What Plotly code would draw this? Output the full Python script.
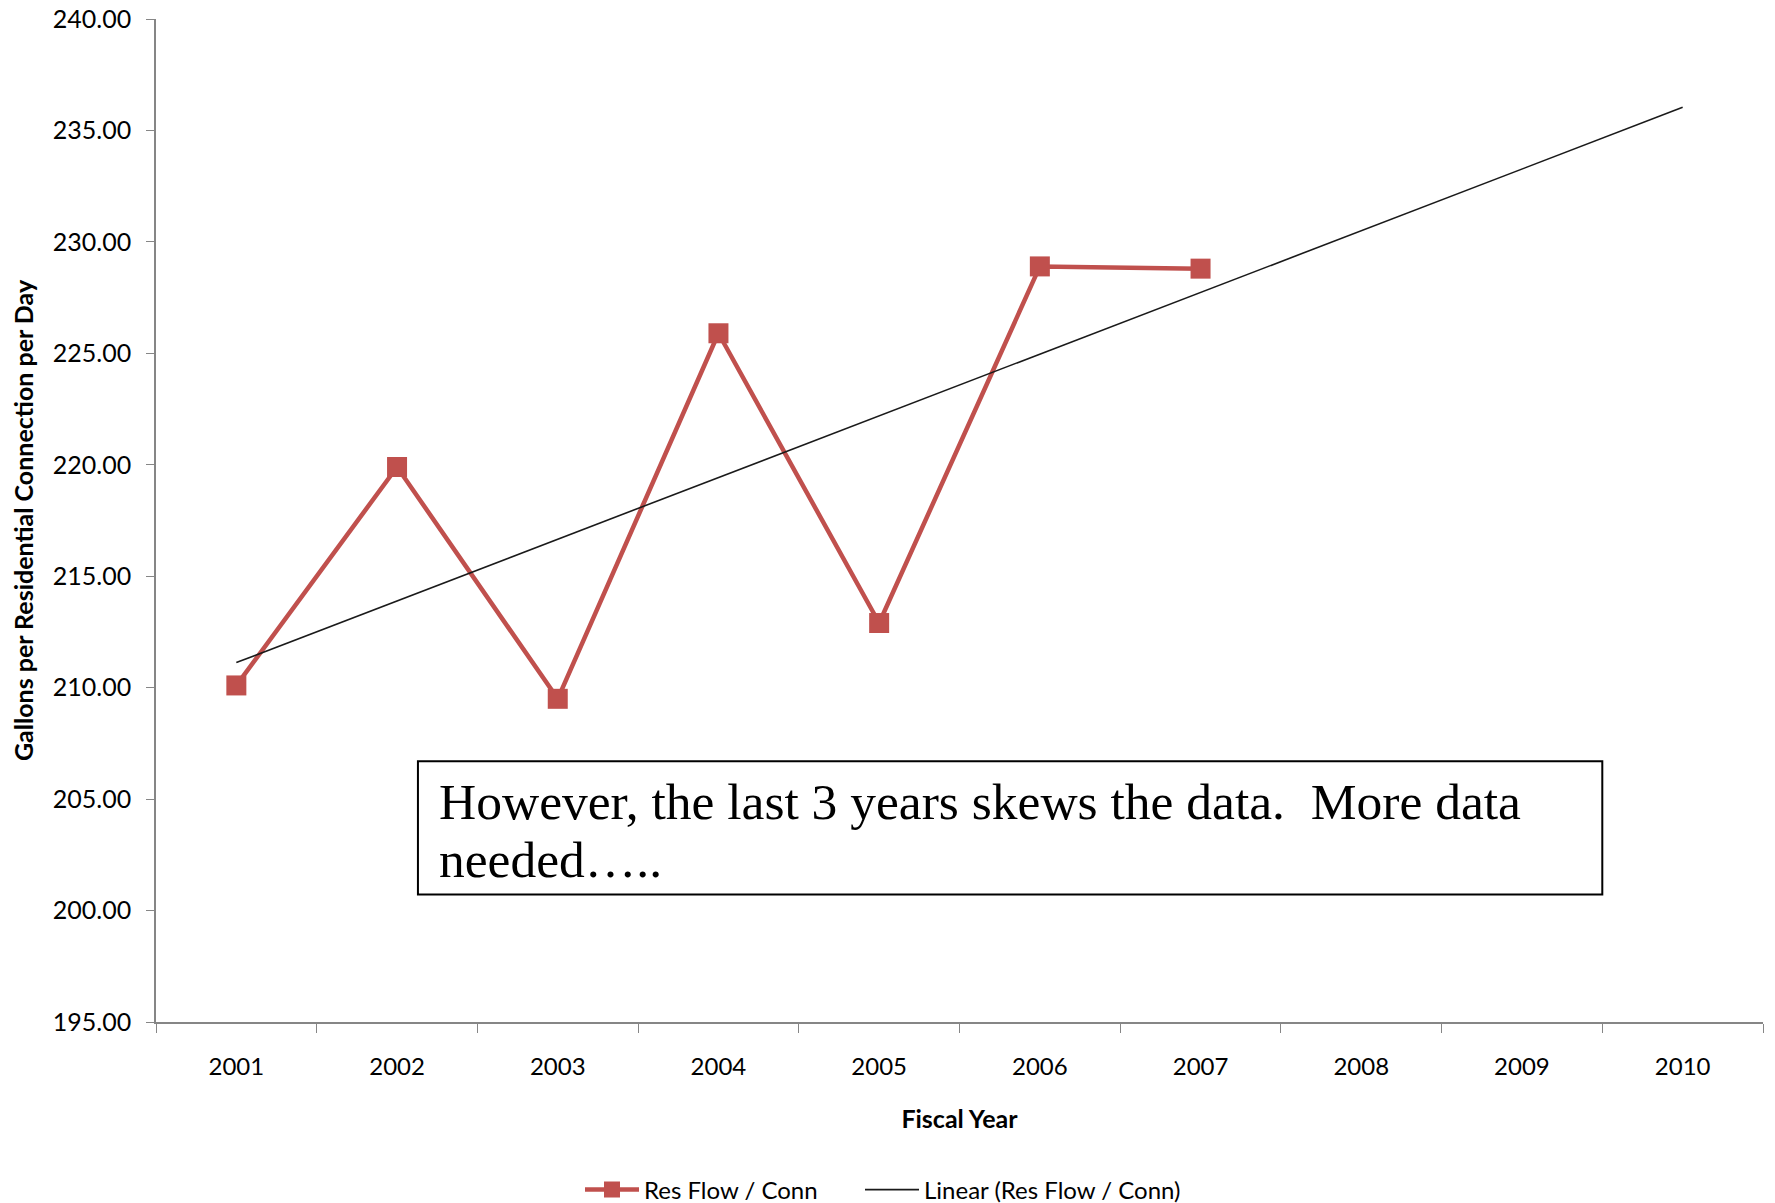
import numpy as np
import plotly.graph_objects as go

years = ["2001", "2002", "2003", "2004", "2005", "2006", "2007", "2008", "2009", "2010"]
data_years = ["2001", "2002", "2003", "2004", "2005", "2006", "2007"]
res_flow = [210.1, 219.9, 209.5, 225.9, 212.9, 228.9, 228.8]
y_ticks = [195, 200, 205, 210, 215, 220, 225, 230, 235, 240]
y_tick_labels = [f"{v:.2f}" for v in y_ticks]

# Excel-style linear trendline fitted to the data, extended to 2010
xi = np.arange(1, len(res_flow) + 1)
slope, intercept = np.polyfit(xi, res_flow, 1)
trend_x = [years[0], years[-1]]
trend_y = [slope * 1 + intercept, slope * len(years) + intercept]

fig = go.Figure()
fig.add_trace(go.Scatter(
    x=data_years, y=res_flow, mode="lines+markers", name="Res Flow / Conn",
    line=dict(color="#C0504D", width=4.5),
    marker=dict(symbol="square", size=20, color="#C0504D"),
    legend="legend",
))
fig.add_trace(go.Scatter(
    x=trend_x, y=trend_y, mode="lines", name="Linear (Res Flow / Conn)",
    line=dict(color="#1a1a1a", width=1.6),
    legend="legend2",
))

font_main = "Lato, 'Open Sans', sans-serif"
leg_common = dict(orientation="h", xref="container", yref="container",
                  xanchor="left", yanchor="middle", y=0.0108, itemwidth=54,
                  font=dict(size=24), bgcolor="rgba(0,0,0,0)")
fig.update_layout(
    width=1775, height=1203,
    margin=dict(l=156, r=12, t=19, b=181, autoexpand=False),
    paper_bgcolor="white", plot_bgcolor="white",
    font=dict(family=font_main, size=24, color="#000000"),
    showlegend=True,
    legend=dict(x=580 / 1775, **leg_common),
    legend2=dict(x=860 / 1775, **leg_common),
    xaxis=dict(type="category", categoryorder="array", categoryarray=years,
               range=[-0.5, 9.5], showline=True, linecolor="#868686", linewidth=1.5,
               ticks="outside", tickson="boundaries", ticklen=9, tickcolor="#868686",
               tickfont=dict(size=24), showgrid=False, zeroline=False,
               ticklabelstandoff=22,
               title=dict(text="<b>Fiscal Year</b>", font=dict(size=25), standoff=32)),
    yaxis=dict(range=[195, 240], tickvals=y_ticks, ticktext=y_tick_labels,
               showline=True, linecolor="#868686", linewidth=1.5,
               ticks="outside", ticklen=8, tickcolor="#868686",
               tickfont=dict(size=25), showgrid=False, zeroline=False,
               ticklabelstandoff=10,
               title=dict(text="<b>Gallons per Residential Connection per Day</b>",
                          font=dict(size=25), standoff=12)),
)

fig.add_shape(type="rect", xref="paper", yref="paper",
              x0=0.163, x1=0.900, y0=0.127, y1=0.260,
              line=dict(color="#000000", width=2), fillcolor="white", layer="above")
box_font = dict(family="'Liberation Serif', 'DejaVu Serif', serif", size=51.5, color="#000000")
fig.add_annotation(xref="paper", yref="paper", x=0.175, y=0.2203,
                   xanchor="left", yanchor="middle", align="left", showarrow=False,
                   text="However, the last 3 years skews the data.  More data",
                   font=box_font)
fig.add_annotation(xref="paper", yref="paper", x=0.175, y=0.1625,
                   xanchor="left", yanchor="middle", align="left", showarrow=False,
                   text="needed…..", font=box_font)

fig.write_html("out.html")
